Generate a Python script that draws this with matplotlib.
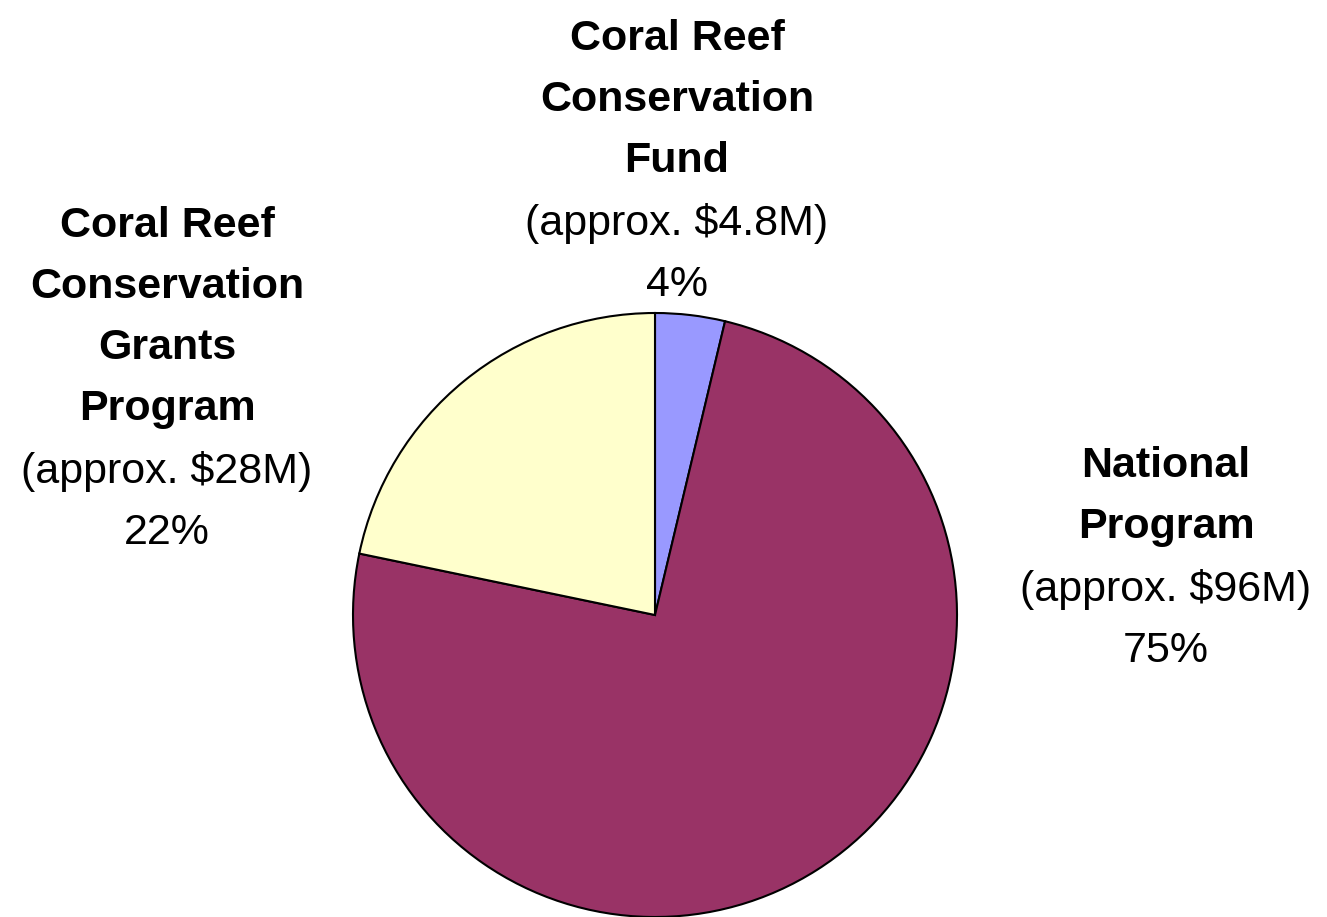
import matplotlib
matplotlib.use("Agg")
import matplotlib.pyplot as plt

categories = ["Coral Reef\nConservation\nFund",
              "National\nProgram",
              "Coral Reef\nConservation\nGrants\nProgram"]
amounts_label = ["(approx. $4.8M)", "(approx. $96M)", "(approx. $28M)"]
pct_labels = ["4%", "75%", "22%"]
values = [4.8, 96, 28]
colors = ["#9999FF", "#993366", "#FFFFCC"]

W, H = 1327, 917
fig = plt.figure(figsize=(W / 100, H / 100), dpi=100)
ax = fig.add_axes([0, 0, 1, 1])

ax.pie(values, colors=colors, startangle=90, counterclock=False,
       center=(655, H - 615), radius=302, frame=True,
       wedgeprops=dict(edgecolor="black", linewidth=1.5))
ax.set_xlim(0, W)
ax.set_ylim(0, H)
ax.set_aspect("equal")
ax.axis("off")

font = "Liberation Sans"
fs = 31
# (x center, baseline of first line in pixels from top)
anchors = [(677, 50), (1166, 477), (167, 237)]
spacing = 61
for cat, amt, pct, (x, y0) in zip(categories, amounts_label, pct_labels, anchors):
    y = y0
    for ln in cat.split("\n"):
        ax.text(x, H - y, ln, ha="center", va="baseline", fontsize=fs,
                fontweight="bold", family=font)
        y += spacing
    y += 2
    ax.text(x, H - y, amt, ha="center", va="baseline", fontsize=fs, family=font)
    y += spacing
    ax.text(x, H - y, pct, ha="center", va="baseline", fontsize=fs, family=font)

fig.savefig("out.png", dpi=100)
